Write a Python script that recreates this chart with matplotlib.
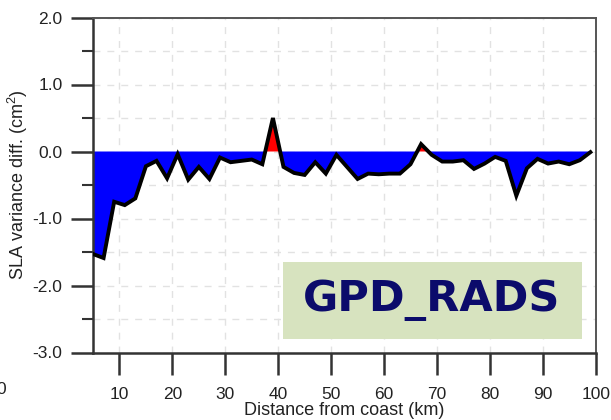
import matplotlib
matplotlib.use("Agg")
import matplotlib.pyplot as plt
from matplotlib.patches import Rectangle
from matplotlib.ticker import MultipleLocator
import numpy as np

# distance from coast (km) and SLA variance difference (cm^2)
distance = np.arange(5, 100, 2)
sla_diff = [
    -1.53, -1.59, -0.75, -0.80, -0.70, -0.22, -0.14, -0.40, -0.04, -0.42,
    -0.23, -0.41, -0.09, -0.16, -0.14, -0.12, -0.19, 0.50, -0.23, -0.32,
    -0.35, -0.16, -0.33, -0.05, -0.23, -0.41, -0.33, -0.34, -0.33, -0.33,
    -0.19, 0.11, -0.05, -0.15, -0.15, -0.13, -0.26, -0.18, -0.08, -0.14,
    -0.66, -0.25, -0.11, -0.18, -0.15, -0.19, -0.13, -0.01,
]
x_ticks = [10, 20, 30, 40, 50, 60, 70, 80, 90, 100]
y_ticks = [-3.0, -2.0, -1.0, 0.0, 1.0, 2.0]
panel_label = "GPD_RADS"

plt.rcParams["font.family"] = ["Liberation Sans", "DejaVu Sans"]
plt.rcParams["mathtext.default"] = "regular"

W, H = 611, 420
fig = plt.figure(figsize=(W / 100, H / 100), dpi=100)
ax = fig.add_axes([93 / W, 1 - 352.5 / H, (595.7 - 93) / W, (352.5 - 17.5) / H])

y = np.array(sla_diff)
ax.fill_between(distance, y, 0, where=y <= 0, interpolate=True,
                color="#0000ff", lw=0, zorder=2)
ax.fill_between(distance, y, 0, where=y >= 0, interpolate=True,
                color="#ff0000", lw=0, zorder=2)
ax.plot(distance, y, color="black", lw=2.8, solid_joinstyle="miter", zorder=3)

ax.set_xlim(5, 100)
ax.set_ylim(-3, 2)
ax.set_xticks(x_ticks)
ax.set_yticks(y_ticks)
ax.set_yticklabels([f"{v:.1f}" for v in y_ticks])
ax.yaxis.set_minor_locator(MultipleLocator(0.5))

ax.grid(True, which="major", axis="x", color="#e2e2e2", ls=(0, (5, 5)), lw=1, zorder=0)
ax.grid(True, which="both", axis="y", color="#e2e2e2", ls=(0, (5, 5)), lw=1, zorder=0)
ax.set_axisbelow(True)

ax.tick_params(axis="both", which="major", direction="out", length=16, width=1.8,
               color="#333333", labelsize=12.5, labelcolor="#222222")
ax.tick_params(axis="y", which="major", pad=6)
ax.tick_params(axis="x", which="major", pad=9)
ax.tick_params(axis="y", which="minor", direction="out", length=8, width=1.5,
               color="#333333")

for side in ("left", "bottom"):
    ax.spines[side].set_linewidth(1.8)
    ax.spines[side].set_color("#333333")
for side in ("top", "right"):
    ax.spines[side].set_linewidth(1.4)
    ax.spines[side].set_color("#555555")

ax.set_xlabel("Distance from coast (km)", fontsize=13, color="#222222")
ax.set_ylabel("SLA variance diff. (cm$^2$)", fontsize=13, color="#222222")
ax.xaxis.set_label_coords(0.5, -0.148)
ax.yaxis.set_label_coords(-0.125, 0.5)

# label box sitting over the lower right of the plot
box = Rectangle((283 / W, 1 - 339 / H), (582 - 283) / W, (339 - 262) / H,
                transform=fig.transFigure, facecolor="#d7e3bf", edgecolor="none",
                zorder=5)
fig.patches.append(box)
fig.text(432 / W, 1 - 300 / H, panel_label, ha="center", va="center",
         fontsize=31, fontweight="bold", color="#0b0b6b",
         family=["DejaVu Sans"], zorder=6)

# stray tick label from the neighbouring panel
fig.text(6 / W, 1 - 389 / H, "0", ha="right", va="center", fontsize=12.5,
         color="#222222")

fig.savefig("out.png", dpi=100)
